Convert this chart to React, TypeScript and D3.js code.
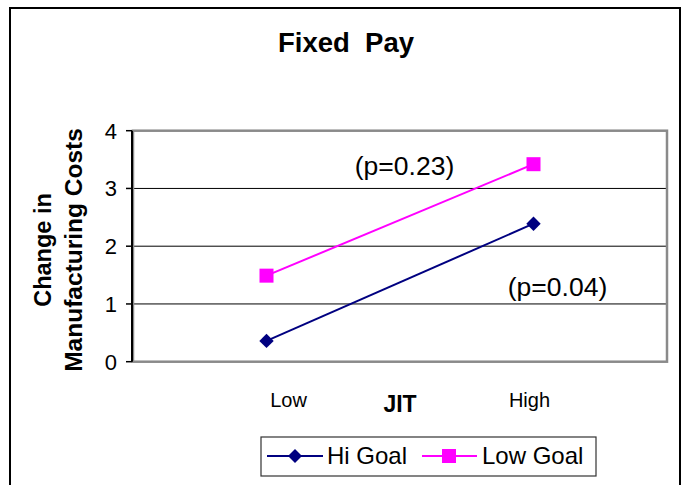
import React from "react";
import * as d3 from "d3";

const categories = ["Low", "High"];
const hiGoal = [0.36, 2.39];
const lowGoal = [1.49, 3.42];
const yTicks = [0, 1, 2, 3, 4];
const seriesNames = ["Hi Goal", "Low Goal"];
const annotations = [
  { text: "(p=0.23)", cat: "Low", value: 3.4 },
  { text: "(p=0.04)", cat: "High", value: 1.3 },
];

const W = 686;
const H = 485;
const FONT = "'Liberation Sans', Arial, Helvetica, sans-serif";

export default function App() {
  const plot = { left: 133, right: 667, top: 130.7, bottom: 361.7 };
  const x = d3
    .scalePoint<string>()
    .domain(categories)
    .range([plot.left, plot.right])
    .padding(0.5);
  const y = d3.scaleLinear().domain([0, 4]).range([plot.bottom, plot.top]);

  const line = d3
    .line<number>()
    .x((_, i) => x(categories[i]) as number)
    .y((d) => y(d));

  const NAVY = "#000080";
  const MAGENTA = "#FF00FF";
  const diamond = (cx: number, cy: number, r: number) =>
    `M${cx},${cy - r}L${cx + r},${cy}L${cx},${cy + r}L${cx - r},${cy}Z`;

  const labelDx = [22, -4];
  const annotX = [138, 24];

  return (
    <svg
      width={W}
      height={H}
      style={{ position: "absolute", left: 0, top: 0, background: "#fff" }}
      fontFamily={FONT}
    >
      <rect x={0} y={0} width={W} height={H} fill="#fff" />
      {/* outer chart border */}
      <rect x={10} y={8} width={670} height={520} fill="none" stroke="#000" strokeWidth={2} />

      {/* title */}
      <text
        x={346}
        y={52}
        textAnchor="middle"
        fontSize={27.5}
        fontWeight="bold"
        style={{ whiteSpace: "pre" }}
      >
        {"Fixed  Pay"}
      </text>

      {/* gridlines */}
      {yTicks
        .filter((t) => t > 0 && t < 4)
        .map((t) => (
          <line key={t} x1={plot.left} x2={plot.right} y1={y(t)} y2={y(t)} stroke="#000" strokeWidth={1} />
        ))}

      {/* plot border */}
      <rect
        x={plot.left}
        y={plot.top}
        width={plot.right - plot.left}
        height={plot.bottom - plot.top}
        fill="none"
        stroke="#8a8a8a"
        strokeWidth={2.5}
      />

      {/* y axis */}
      <line x1={132} x2={132} y1={plot.top} y2={plot.bottom} stroke="#000" strokeWidth={2} />
      {yTicks.map((t) => (
        <g key={t}>
          <line x1={126} x2={132} y1={y(t)} y2={y(t)} stroke="#000" strokeWidth={1.5} />
          <text x={117} y={y(t)} dy="0.36em" textAnchor="end" fontSize={22}>
            {t}
          </text>
        </g>
      ))}

      {/* y axis title */}
      <g transform="translate(0,250) rotate(-90)">
        <text x={0} y={50.5} textAnchor="middle" fontSize={23.5} fontWeight="bold">
          Change in
        </text>
        <text x={0} y={82} textAnchor="middle" fontSize={24.5} fontWeight="bold">
          Manufacturing Costs
        </text>
      </g>

      {/* x labels */}
      {categories.map((c, i) => (
        <text key={c} x={(x(c) as number) + labelDx[i]} y={407} textAnchor="middle" fontSize={20}>
          {c}
        </text>
      ))}
      <text x={(plot.left + plot.right) / 2} y={412} textAnchor="middle" fontSize={23} fontWeight="bold">
        JIT
      </text>

      {/* series */}
      <path d={line(hiGoal) || ""} fill="none" stroke={NAVY} strokeWidth={2} />
      <path d={line(lowGoal) || ""} fill="none" stroke={MAGENTA} strokeWidth={2} />
      {hiGoal.map((v, i) => (
        <path key={"h" + i} d={diamond(x(categories[i]) as number, y(v), 7.2)} fill={NAVY} />
      ))}
      {lowGoal.map((v, i) => (
        <rect key={"l" + i} x={(x(categories[i]) as number) - 7} y={y(v) - 7} width={14} height={14} fill={MAGENTA} />
      ))}

      {/* annotations */}
      {annotations.map((a, i) => (
        <text key={a.text} x={(x(a.cat) as number) + annotX[i]} y={y(a.value)} dy="0.35em" textAnchor="middle" fontSize={26.5}>
          {a.text}
        </text>
      ))}

      {/* legend */}
      <rect x={261} y={437} width={335} height={39} fill="#fff" stroke="#333" strokeWidth={1.2} />
      <line x1={267} x2={323} y1={456} y2={456} stroke={NAVY} strokeWidth={2} />
      <path d={diamond(295, 456, 7)} fill={NAVY} />
      <text x={327} y={464} fontSize={24}>
        {seriesNames[0]}
      </text>
      <line x1={422} x2={477} y1={456} y2={456} stroke={MAGENTA} strokeWidth={2} />
      <rect x={442} y={449} width={14} height={14} fill={MAGENTA} />
      <text x={482} y={464} fontSize={24}>
        {seriesNames[1]}
      </text>
    </svg>
  );
}
